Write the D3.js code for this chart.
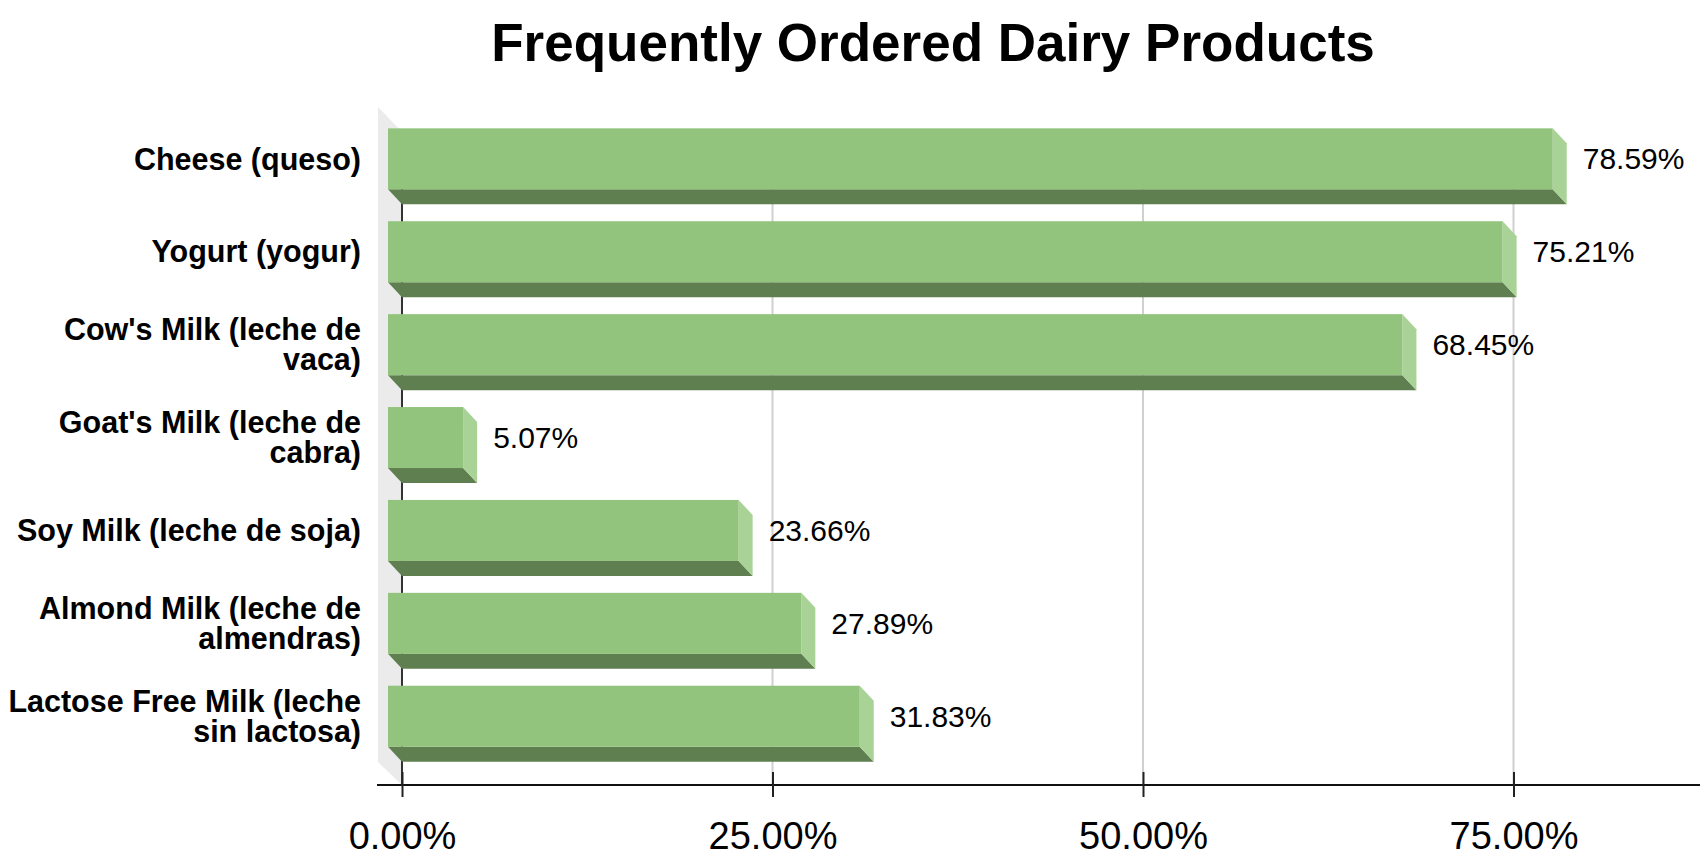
<!DOCTYPE html>
<html>
<head>
<meta charset="utf-8">
<script src="https://cdn.jsdelivr.net/npm/d3@7"></script>
<style>
  html, body { margin: 0; padding: 0; background: #fff; }
  svg { display: block; font-family: "Liberation Sans", Arial, sans-serif; }
</style>
</head>
<body>
<svg id="chart" width="1700" height="868"></svg>
<script>
const categories = [
  "Cheese (queso)",
  "Yogurt (yogur)",
  "Cow's Milk (leche de vaca)",
  "Goat's Milk (leche de cabra)",
  "Soy Milk (leche de soja)",
  "Almond Milk (leche de almendras)",
  "Lactose Free Milk (leche sin lactosa)"
];
const values = [0.7859, 0.7521, 0.6845, 0.0507, 0.2366, 0.2789, 0.3183];
const tickValues = [0, 0.25, 0.5, 0.75];

const svg = d3.select("#chart");
const width = 1700;

// 3d depth of bars and of the left wall
const dx = 14, dy = 15;
const wallDx = 24, wallDy = 23;

const plotTop = 132;
const axisY = 785;

const x = d3.scaleLinear()
  .domain([0, 0.75])
  .range([402, 402 + 0.75 * 1482]);

const y = d3.scaleBand()
  .domain(categories)
  .range([127.4, 777.7])
  .paddingInner(0.343)
  .paddingOuter(0.1715);

const colFront = "#93c47d";
const colSide = "#a9d396";
const colBottom = "#607f50";

// left wall
svg.append("polygon")
  .attr("points", [
    [x(0) - wallDx, plotTop - wallDy - 2],
    [x(0), plotTop],
    [x(0), axisY],
    [x(0) - wallDx, axisY - wallDy]
  ].map(p => p.join(",")).join(" "))
  .attr("fill", "#ebebeb");

// gridlines
svg.append("g")
  .selectAll("line")
  .data(tickValues.slice(1))
  .enter()
  .append("line")
  .attr("x1", d => x(d))
  .attr("x2", d => x(d))
  .attr("y1", plotTop)
  .attr("y2", axisY)
  .attr("stroke", "#d0d0d0")
  .attr("stroke-width", 2);

// zero line
svg.append("line")
  .attr("x1", x(0)).attr("x2", x(0))
  .attr("y1", plotTop).attr("y2", axisY)
  .attr("stroke", "#333")
  .attr("stroke-width", 2);

// x axis
svg.append("line")
  .attr("x1", x(0) - wallDx - 1).attr("x2", width)
  .attr("y1", axisY).attr("y2", axisY)
  .attr("stroke", "#111")
  .attr("stroke-width", 2);

const xAxis = svg.append("g")
  .attr("transform", `translate(0,${axisY})`)
  .call(d3.axisBottom(x)
    .tickValues(tickValues)
    .tickFormat(d3.format(".2%"))
    .tickSize(12)
    .tickSizeOuter(0));

xAxis.select(".domain").remove();
xAxis.selectAll(".tick line")
  .attr("y1", -13)
  .attr("y2", 12)
  .attr("stroke", "#222")
  .attr("stroke-width", 2);
xAxis.selectAll(".tick text")
  .attr("y", 64)
  .attr("dy", 0)
  .attr("fill", "#000")
  .style("font-family", "'Liberation Sans', Arial, sans-serif")
  .style("font-size", "38px");

// bars
const bar = svg.append("g")
  .selectAll("g")
  .data(categories.map((c, i) => ({ cat: c, value: values[i] })))
  .enter()
  .append("g");

const pts = arr => arr.map(p => p.join(",")).join(" ");

bar.append("polygon")
  .attr("fill", colBottom)
  .attr("points", d => {
    const x0 = x(0), x1 = x(d.value), y1 = y(d.cat) + y.bandwidth();
    return pts([[x0 - dx, y1 - dy], [x1 - dx, y1 - dy], [x1, y1], [x0, y1]]);
  });

bar.append("polygon")
  .attr("fill", colSide)
  .attr("points", d => {
    const x1 = x(d.value), y0 = y(d.cat), y1 = y0 + y.bandwidth();
    return pts([[x1 - dx, y0 - dy], [x1, y0], [x1, y1], [x1 - dx, y1 - dy]]);
  });

bar.append("rect")
  .attr("fill", colFront)
  .attr("x", x(0) - dx)
  .attr("y", d => y(d.cat) - dy)
  .attr("width", d => x(d.value) - x(0))
  .attr("height", y.bandwidth());

// value labels
bar.append("text")
  .attr("x", d => x(d.value) + 16)
  .attr("y", d => y(d.cat) - dy + y.bandwidth() / 2)
  .attr("dy", "0.35em")
  .attr("font-size", "30px")
  .attr("fill", "#000")
  .text(d => d3.format(".2%")(d.value));

// category labels, wrapped
const labels = svg.append("g")
  .selectAll("text")
  .data(categories)
  .enter()
  .append("text")
  .attr("text-anchor", "end")
  .attr("font-size", "30.5px")
  .attr("font-weight", "bold")
  .attr("fill", "#000");

labels.each(function(d) {
  const t = d3.select(this);
  const words = d.split(" ");
  const lines = [];
  let line = [];
  const probe = t.append("tspan");
  words.forEach(w => {
    line.push(w);
    probe.text(line.join(" "));
    if (probe.node().getComputedTextLength() > 358 && line.length > 1) {
      line.pop();
      lines.push(line.join(" "));
      line = [w];
    }
  });
  lines.push(line.join(" "));
  probe.remove();
  const lh = 30;
  const cy = y(d) - dy + y.bandwidth() / 2;
  lines.forEach((l, i) => {
    t.append("tspan")
      .attr("x", 361)
      .attr("y", cy + (i - (lines.length - 1) / 2) * lh)
      .attr("dy", "0.35em")
      .text(l);
  });
});

// title
svg.append("text")
  .attr("x", 933)
  .attr("y", 61)
  .attr("text-anchor", "middle")
  .attr("font-size", "53px")
  .attr("font-weight", "bold")
  .attr("fill", "#000")
  .text("Frequently Ordered Dairy Products");
</script>
</body>
</html>
